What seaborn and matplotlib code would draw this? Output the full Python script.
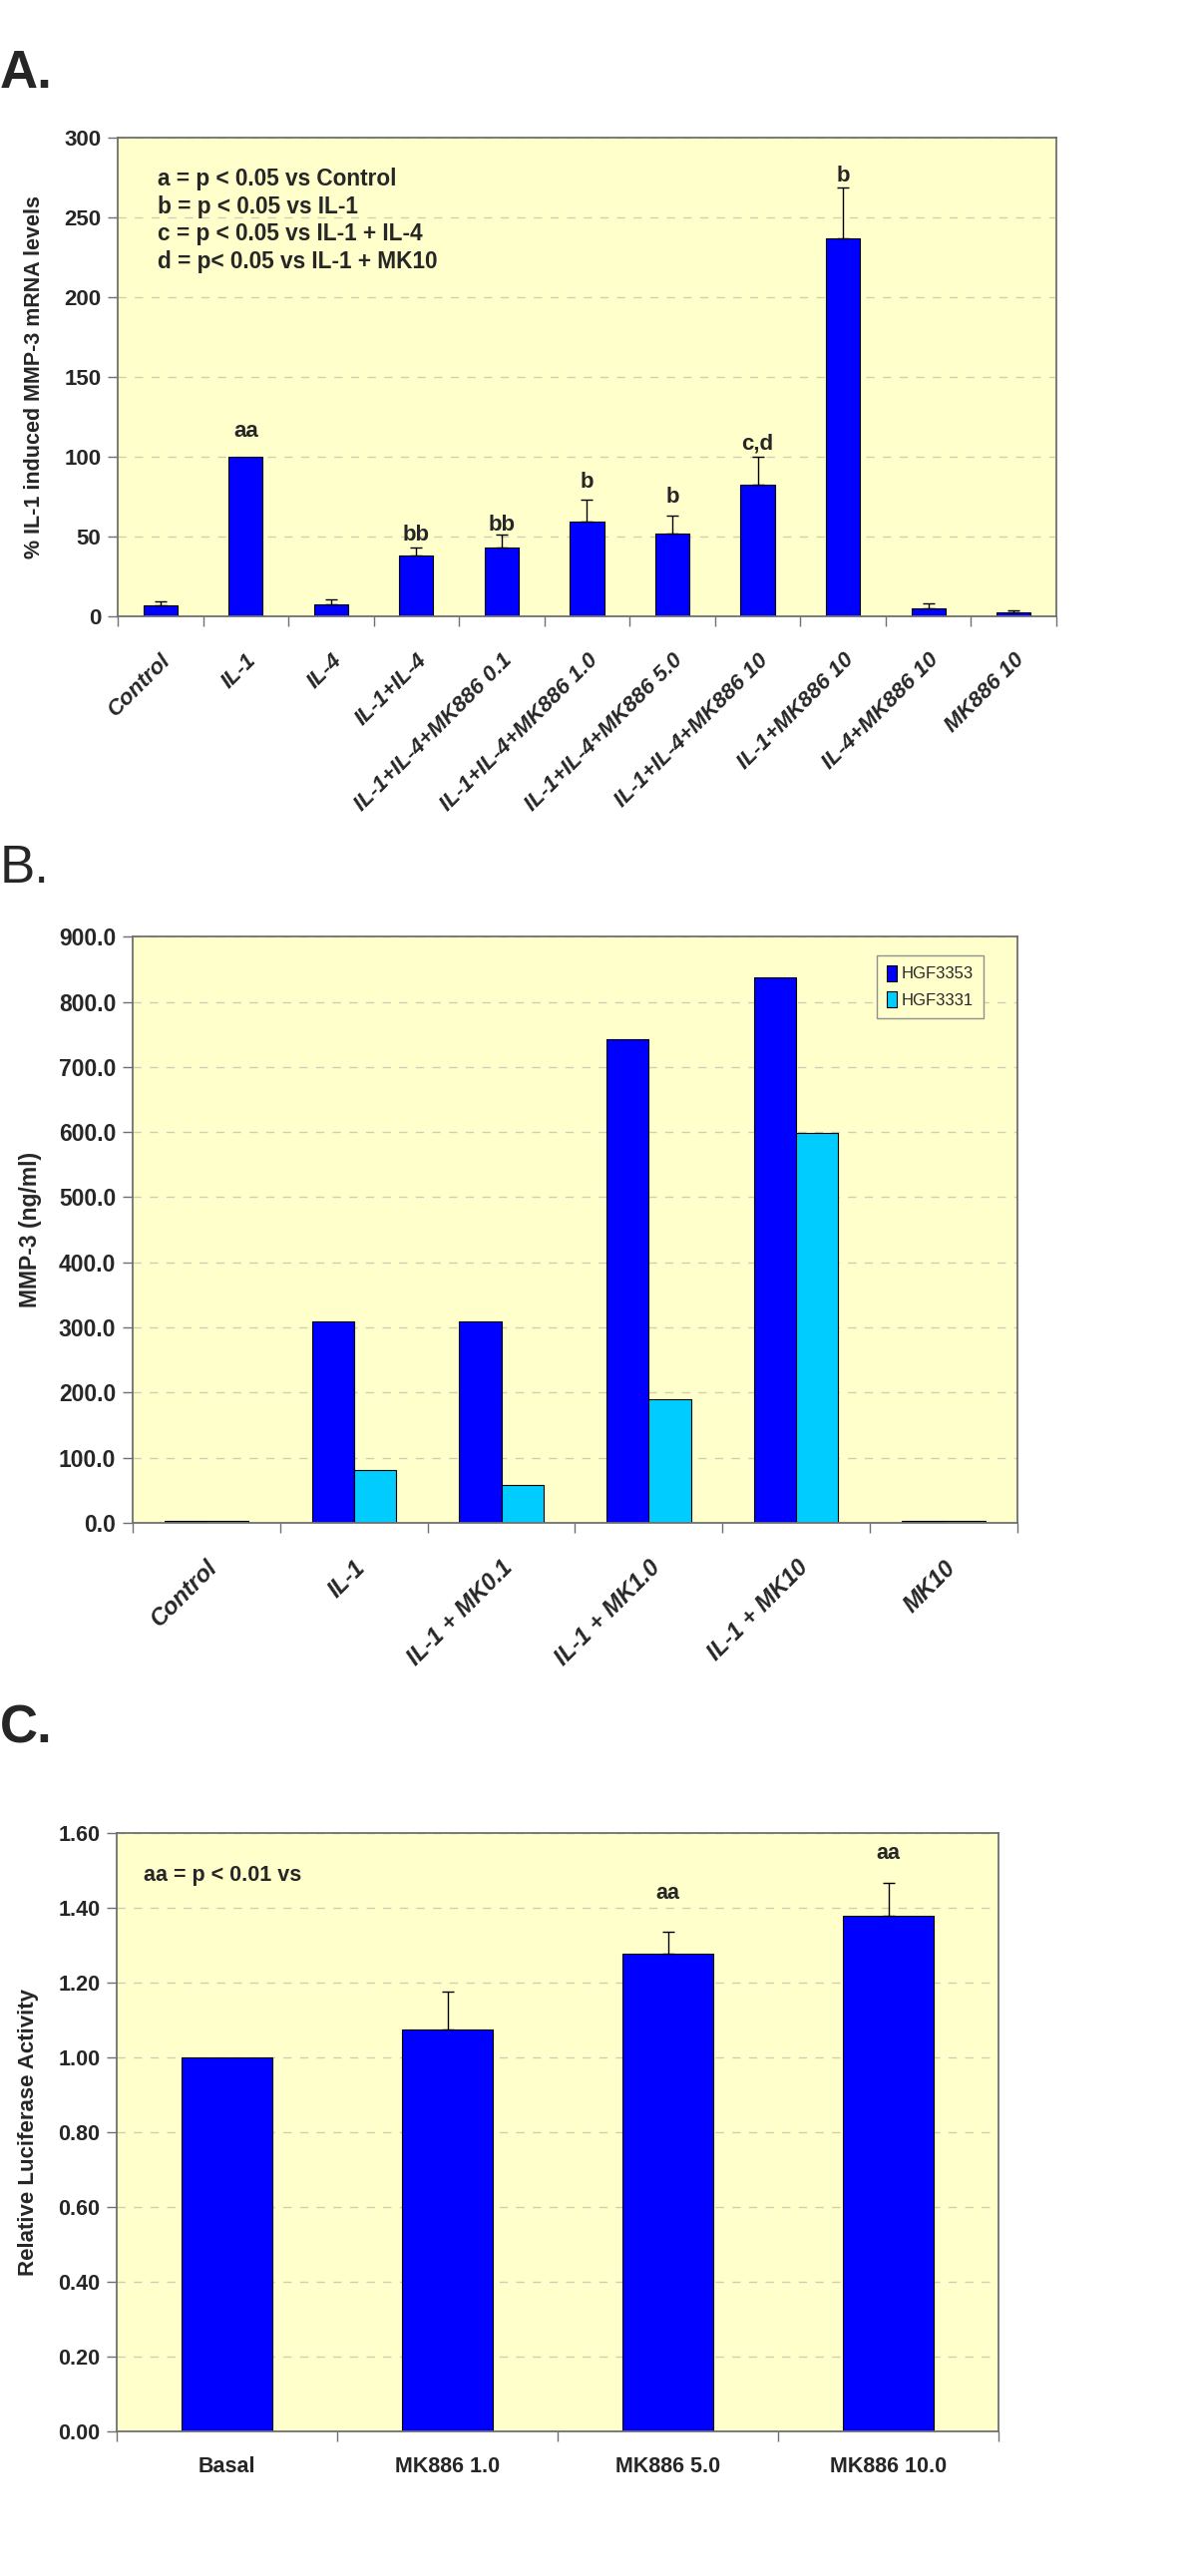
import numpy as np
import pandas as pd
import matplotlib
matplotlib.use("Agg")
import matplotlib.pyplot as plt
import seaborn as sns

sns.set_theme(style="white")
plt.rcParams['font.family'] = ['Liberation Sans', 'DejaVu Sans']

# ---- panel A data ----
a_groups = ["Control", "IL-1", "IL-4", "IL-1+IL-4", "IL-1+IL-4+MK886 0.1",
            "IL-1+IL-4+MK886 1.0", "IL-1+IL-4+MK886 5.0", "IL-1+IL-4+MK886 10",
            "IL-1+MK886 10", "IL-4+MK886 10", "MK886 10"]
a_values = [6.7, 100, 7.5, 38.2, 43.4, 59.7, 52.2, 82.7, 237.2, 5.2, 2.8]
a_errors = [2.9, 0, 3.1, 5.2, 7.8, 13.7, 11.1, 17.3, 31.8, 3.3, 1.3]
a_sig = ["", "aa", "", "bb", "bb", "b", "b", "c,d", "b", "", ""]
a_sig_y = [0, 116, 0, 51, 57, 84, 75, 108, 276, 0, 0]
a_note = ("a = p < 0.05 vs Control\nb = p < 0.05 vs IL-1\n"
          "c = p < 0.05 vs IL-1 + IL-4\nd = p< 0.05 vs IL-1 + MK10")

# ---- panel B data ----
b_groups = ["Control", "IL-1", "IL-1 + MK0.1", "IL-1 + MK1.0", "IL-1 + MK10", "MK10"]
b_hgf3353 = [3.0, 308.7, 310.0, 743.0, 837.6, 3.0]
b_hgf3331 = [3.0, 80.5, 57.8, 190.0, 599.0, 3.0]

# ---- panel C data ----
c_groups = ["Basal", "MK886 1.0", "MK886 5.0", "MK886 10.0"]
c_values = [1.0, 1.075, 1.278, 1.378]
c_errors = [0, 0.10, 0.058, 0.089]
c_sig = ["", "", "aa", "aa"]
c_sig_y = [0, 0, 1.44, 1.545]

BG = "#FFFFCC"
BLUE = "#0000FF"
CYAN = "#00CCFF"
SPINE = "#707070"
GRID = "#cfcfb5"

fig = plt.figure(figsize=(12, 25.83), dpi=100)


def style_axes(ax, n, yticks, fmt, tsize):
    ax.set_facecolor(BG)
    for s in ax.spines.values():
        s.set_color(SPINE)
        s.set_linewidth(1.3)
    ax.set_xlim(-0.5, n - 0.5)
    ax.set_ylim(yticks[0], yticks[-1])
    ax.set_yticks(yticks)
    ax.set_yticklabels([fmt.format(t) for t in yticks], fontsize=tsize, fontweight='bold')
    ax.set_xticks(np.arange(n + 1) - 0.5, minor=True)
    ax.tick_params(axis='x', which='minor', length=7, width=1, color=SPINE, direction='out', bottom=True)
    ax.tick_params(axis='x', which='major', length=0)
    ax.tick_params(axis='y', which='major', length=7, width=1, color=SPINE, direction='out', left=True, pad=5)
    ax.yaxis.grid(True, linestyle=(0, (6, 6)), color=GRID, linewidth=1)
    ax.xaxis.grid(False)
    ax.set_axisbelow(True)
    ax.set_xlabel("")


def add_errors(ax, vals, errs):
    idx = [i for i, e in enumerate(errs) if e > 0]
    ax.errorbar(x=idx, y=[vals[i] for i in idx],
                yerr=[[0] * len(idx), [errs[i] for i in idx]],
                fmt='none', ecolor='black', elinewidth=1, capsize=4, capthick=1)


# ---------- A ----------
axA = fig.add_axes([0.0983, 0.7607, 0.7842, 0.1858])
dfA = pd.DataFrame({"group": a_groups, "value": a_values})
sns.barplot(data=dfA, x="group", y="value", color=BLUE, width=0.40,
            edgecolor="black", linewidth=0.8, saturation=1, ax=axA)
add_errors(axA, a_values, a_errors)
style_axes(axA, len(a_groups), list(range(0, 301, 50)), "{:.0f}", 16)
axA.set_xticks(range(len(a_groups)))
axA.set_xticklabels(a_groups, rotation=45, ha='right', va='top', rotation_mode='anchor',
                    fontsize=16, fontstyle='italic', fontweight='bold')
axA.tick_params(axis='x', which='major', pad=24)
axA.set_ylabel("% IL-1 induced MMP-3 mRNA levels", fontsize=15.5, fontweight='bold', labelpad=14)
for i, (s, y) in enumerate(zip(a_sig, a_sig_y)):
    if s:
        axA.text(i, y, s, ha='center', va='center', fontsize=16, fontweight='bold')
axA.text(0.0425, 0.937, a_note, transform=axA.transAxes, ha='left', va='top',
         fontsize=16.3, fontweight='bold', linespacing=1.25)

# ---------- B ----------
axB = fig.add_axes([0.1108, 0.4088, 0.7392, 0.2276])
dfB = pd.DataFrame({
    "group": b_groups * 2,
    "value": b_hgf3353 + b_hgf3331,
    "series": ["HGF3353"] * len(b_groups) + ["HGF3331"] * len(b_groups),
})
sns.barplot(data=dfB, x="group", y="value", hue="series",
            palette={"HGF3353": BLUE, "HGF3331": CYAN}, width=0.57, gap=0,
            edgecolor="black", linewidth=0.8, saturation=1, ax=axB)
style_axes(axB, len(b_groups), list(range(0, 901, 100)), "{:.1f}", 16.5)
axB.set_xticks(range(len(b_groups)))
axB.set_xticklabels(b_groups, rotation=45, ha='right', va='top', rotation_mode='anchor',
                    fontsize=17, fontstyle='italic', fontweight='bold')
axB.tick_params(axis='x', which='major', pad=24)
axB.set_ylabel("MMP-3 (ng/ml)", fontsize=16.5, fontweight='bold', labelpad=12)
axB.legend(loc='upper right', bbox_to_anchor=(0.9707, 0.983), fontsize=12,
           handlelength=0.6, handleheight=1.1, handletextpad=0.3, fancybox=False,
           framealpha=1, facecolor=BG, edgecolor='#909090', borderpad=0.6, labelspacing=0.6)

# ---------- C ----------
axC = fig.add_axes([0.0975, 0.0561, 0.7367, 0.2323])
dfC = pd.DataFrame({"group": c_groups, "value": c_values})
sns.barplot(data=dfC, x="group", y="value", color=BLUE, width=0.41,
            edgecolor="black", linewidth=0.8, saturation=1, ax=axC)
add_errors(axC, c_values, c_errors)
style_axes(axC, len(c_groups), [round(0.2 * k, 2) for k in range(9)], "{:.2f}", 15.5)
axC.set_xticks(range(len(c_groups)))
axC.set_xticklabels(c_groups, fontsize=15.5, fontweight='bold')
axC.tick_params(axis='x', which='major', pad=18)
axC.set_ylabel("Relative Luciferase Activity", fontsize=16, fontweight='bold', labelpad=14)
for i, (s, y) in enumerate(zip(c_sig, c_sig_y)):
    if s:
        axC.text(i, y, s, ha='center', va='center', fontsize=15.5, fontweight='bold')
axC.text(0.0305, 0.93, "aa = p < 0.01 vs", transform=axC.transAxes, ha='left', va='center',
         fontsize=15.5, fontweight='bold')

# panel letters
fig.text(0.0, 1 - 88 / 2583, "A.", fontsize=38, fontweight='bold', ha='left', va='baseline')
fig.text(0.0, 1 - 885 / 2583, "B.", fontsize=38, ha='left', va='baseline')
fig.text(0.0, 1 - 1747 / 2583, "C.", fontsize=38, fontweight='bold', ha='left', va='baseline')

fig.savefig("out.png", dpi=100, facecolor='white')
